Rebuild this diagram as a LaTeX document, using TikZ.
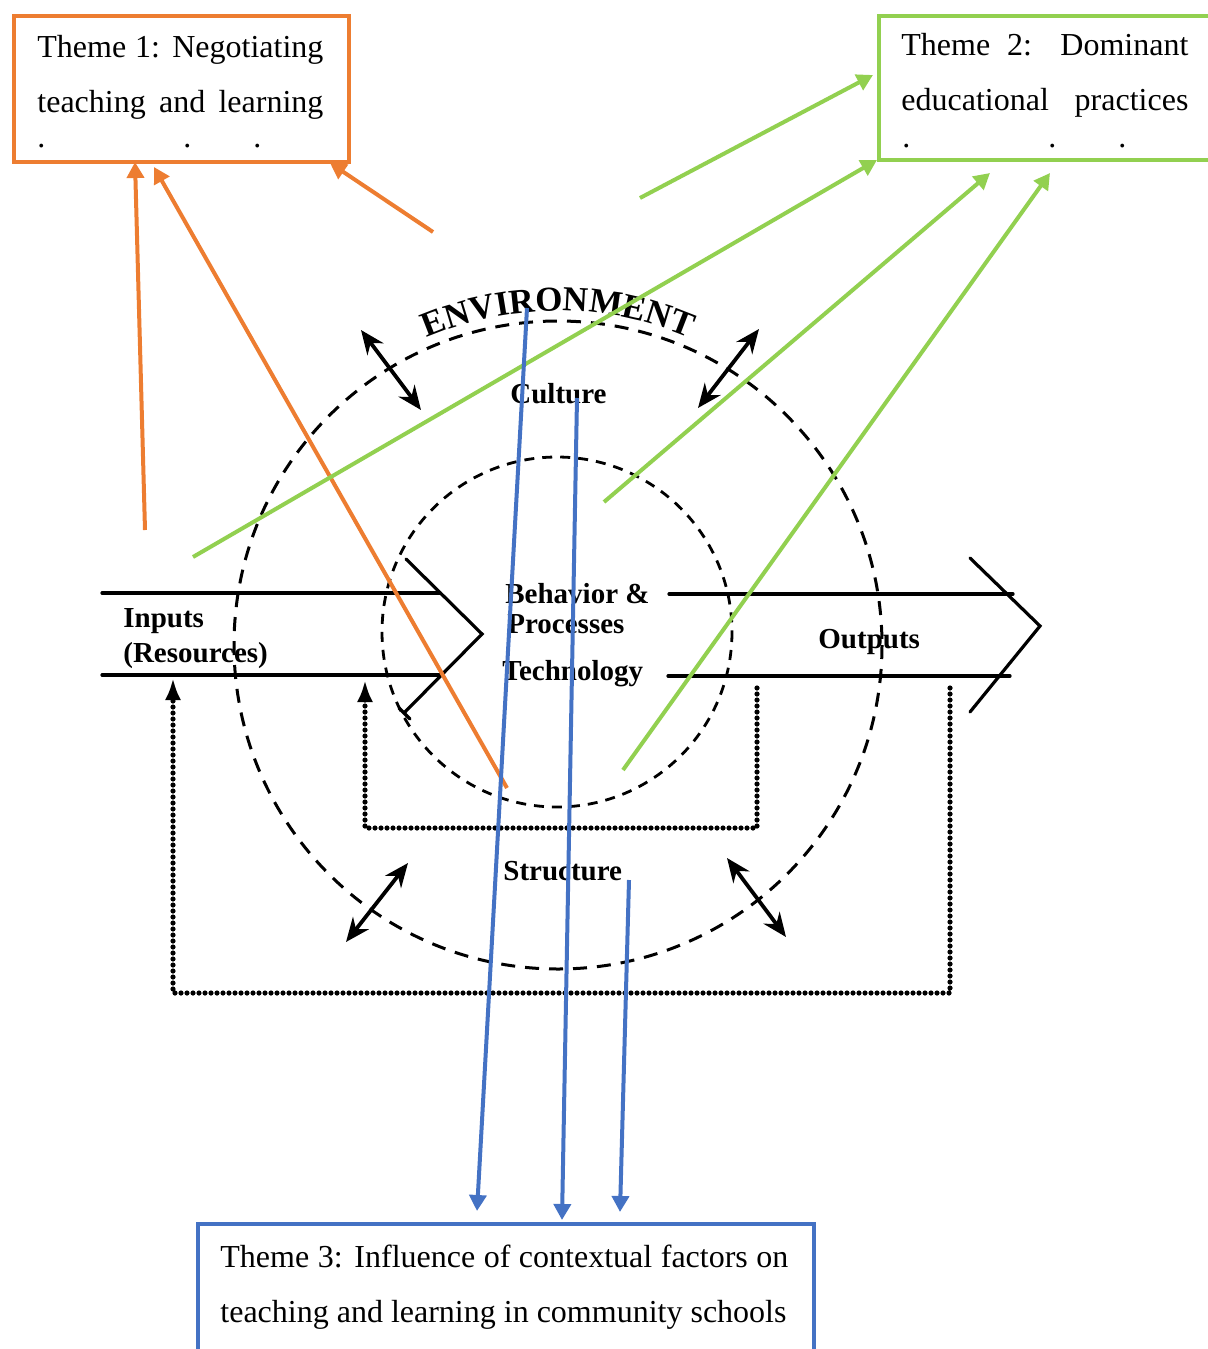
\documentclass[tikz,border=0pt]{standalone}
\usepackage{fontspec}
\setmainfont{Liberation Serif}
\usetikzlibrary{arrows.meta,decorations.text}
\definecolor{themeorange}{HTML}{ED7D31}
\definecolor{themegreen}{HTML}{92D050}
\definecolor{themeblue}{HTML}{4472C4}

\begin{document}
\begin{tikzpicture}[x=0.5pt,y=-0.5pt,
  themetext/.style={anchor=base west, inner sep=0pt, font=\fontsize{16pt}{19pt}\selectfont},
  lbl/.style={anchor=base west, inner sep=0pt, font=\fontsize{14.5pt}{17pt}\selectfont\bfseries},
  outline/.style={line width=1.6pt, line cap=round, line join=miter},
  envcircle/.style={line width=1.5pt, dash pattern=on 7pt off 5pt},
  corecircle/.style={line width=1.4pt, dash pattern=on 5pt off 4pt},
  feedback/.style={line width=2.6pt, line cap=round, dash pattern=on 0pt off 3pt,
    -{Latex[length=11pt,width=8pt]}},
  exchange/.style={line width=1.9pt,
    {Stealth[length=12pt,width=10pt]}-{Stealth[length=12pt,width=10pt]}},
  link/.style={line width=2pt, -{Triangle[length=8pt,width=8.5pt]}},
  themebox/.style={line width=2pt, inner sep=0pt, anchor=north west},
]
\useasboundingbox (0,0) rectangle (1208,1349);
\clip (0,0) rectangle (1208,1349);

% ---------- open-systems model ----------
\draw[envcircle] (558,645) circle[radius=324];
\draw[corecircle] (557,632) circle[radius=175];

\begin{scope}[y=0.5pt]
  \path[decorate, decoration={text along path, text align=center,
      text={|\fontsize{17.5pt}{17.5pt}\selectfont\bfseries|ENVIRONMENT}}]
    (558,-645) ++(115:334) arc[start angle=115, end angle=65, radius=334];
\end{scope}

% input arrow
\draw[outline] (102,593) -- (440,593);
\draw[outline] (102,675) -- (441,675);
\draw[outline] (406,559) -- (482,634) -- (404,713);
\draw[outline] (399,708) -- (410,719);
% output arrow
\draw[outline] (669,594) -- (1013,594);
\draw[outline] (668,676) -- (1010,676);
\draw[outline] (970,558) -- (1040,626) -- (970,712);

% feedback loops
\draw[feedback] (757,688) -- (757,828) -- (365,828) -- (365,680);
\draw[feedback] (950,688) -- (950,993) -- (173,993) -- (173,678);

% exchanges with the environment
\draw[exchange] (361,330) -- (421,410);
\draw[exchange] (759,329) -- (698,408);
\draw[exchange] (408,863) -- (346,942);
\draw[exchange] (727,858) -- (786,937);

% labels
\node[lbl] (culture) at (510,403) {Culture};
\node[lbl] (behav) at (505,603) {Behavior \&};
\node[lbl] (proc) at (507,633) {Processes};
\node[lbl] (tech) at (502,680) {Technology};
\node[lbl] (inputs) at (123,627) {Inputs};
\node[lbl] (resources) at (123,662) {(Resources)};
\node[lbl] (outputs) at (818,648) {Outputs};
\node[lbl] (structure) at (503,880) {Structure};

% ---------- theme boxes ----------
\node[themebox, draw=themeorange, minimum width=167.5pt, minimum height=73pt] (t1) at (12,14) {};
\node[themetext] (t1a) at (37,57) {\makebox[143pt][s]{Theme 1: Negotiating}};
\node[themetext] (t1b) at (37,112) {\makebox[143pt][s]{teaching and learning}};
\node[themetext] (t1c) at (37,147) {.};
\node[themetext] (t1d) at (183,147) {.};
\node[themetext] (t1e) at (253,147) {.};

\node[themebox, draw=themegreen, minimum width=180pt, minimum height=72pt] (t2) at (877,14) {};
\node[themetext] (t2a) at (901,55) {\makebox[143.5pt][s]{Theme 2: Dominant}};
\node[themetext] (t2b) at (901,110) {\makebox[143.5pt][s]{educational practices}};
\node[themetext] (t2c) at (902,147) {.};
\node[themetext] (t2d) at (1048,147) {.};
\node[themetext] (t2e) at (1118,147) {.};

\node[themebox, draw=themeblue, minimum width=308pt, minimum height=80pt] (t3) at (196,1222) {};
\node[themetext] (t3a) at (220,1267) {\makebox[284pt][s]{Theme 3: Influence of contextual factors on}};
\node[themetext] (t3b) at (220,1322) {teaching and learning in community schools};

% ---------- links to themes ----------
\coordinate (o1s) at (145,530);  \coordinate (o1e) at (135,162);
\coordinate (o2s) at (507,788);  \coordinate (o2e) at (154,167);
\coordinate (o3s) at (433,232);  \coordinate (o3e) at (330,163);
\draw[link, themeorange] (o1s) -- (o1e);
\draw[link, themeorange] (o2s) -- (o2e);
\draw[link, themeorange] (o3s) -- (o3e);

\coordinate (g1s) at (640,198);  \coordinate (g1e) at (873,75);
\coordinate (g2s) at (193,557);  \coordinate (g2e) at (877,160);
\coordinate (g3s) at (604,502);  \coordinate (g3e) at (990,173);
\coordinate (g4s) at (623,770);  \coordinate (g4e) at (1050,173);
\draw[link, themegreen] (g1s) -- (g1e);
\draw[link, themegreen] (g2s) -- (g2e);
\draw[link, themegreen] (g3s) -- (g3e);
\draw[link, themegreen] (g4s) -- (g4e);

\coordinate (b1s) at (527,308);  \coordinate (b1e) at (477,1211);
\coordinate (b2s) at (577,398);  \coordinate (b2e) at (562,1220);
\coordinate (b3s) at (629,880);  \coordinate (b3e) at (620,1212);
\draw[link, themeblue] (b1s) -- (b1e);
\draw[link, themeblue] (b2s) -- (b2e);
\draw[link, themeblue] (b3s) -- (b3e);
\end{tikzpicture}
\end{document}
